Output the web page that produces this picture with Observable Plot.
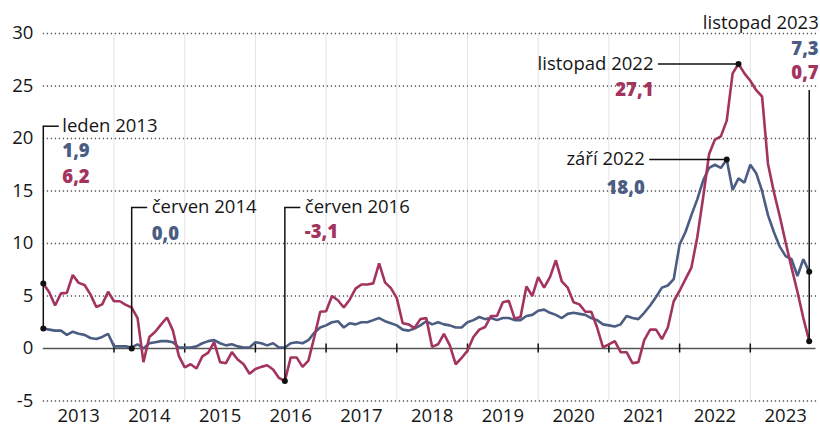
<!DOCTYPE html>
<html><head><meta charset="utf-8">
<script src="https://cdn.jsdelivr.net/npm/d3@7"></script>
<script src="https://cdn.jsdelivr.net/npm/@observablehq/plot@0.6"></script>
<style>body{margin:0;background:#fff}svg{display:block}</style>
</head><body><div id="chart"></div>
<script>
// Monthly values Jan 2013 – Nov 2023 (y/y change, %)
const blueSeries = [
  1.9,1.8,1.7,1.7,1.3,1.6,1.4,1.3,1.0,0.9,1.1,1.4,
  0.2,0.2,0.2,0.1,0.4,0.0,0.5,0.6,0.7,0.7,0.6,0.1,
  0.1,0.1,0.2,0.5,0.7,0.8,0.5,0.3,0.4,0.2,0.1,0.1,
  0.6,0.5,0.3,0.5,0.1,0.1,0.5,0.6,0.5,0.8,1.5,2.0,
  2.2,2.5,2.6,2.0,2.4,2.3,2.5,2.5,2.7,2.9,2.6,2.4,
  2.2,1.8,1.7,1.9,2.2,2.6,2.3,2.5,2.3,2.2,2.0,2.0,
  2.5,2.7,3.0,2.8,2.9,2.7,2.9,2.9,2.7,2.7,3.1,3.2,
  3.6,3.7,3.4,3.2,2.9,3.3,3.4,3.3,3.2,2.9,2.7,2.3,
  2.2,2.1,2.3,3.1,2.9,2.8,3.4,4.1,4.9,5.8,6.0,6.6,
  9.9,11.1,12.7,14.2,16.0,17.2,17.5,17.2,18.0,15.1,16.2,15.8,
  17.5,16.7,15.0,12.7,11.1,9.7,8.8,8.5,6.9,8.5,7.3
];
const redSeries = [
  6.2,5.35,4.1,5.25,5.3,7.0,6.25,6.05,5.15,3.95,4.2,5.4,
  4.5,4.5,4.15,3.9,2.9,-1.3,1.1,1.6,2.3,2.95,1.7,-0.7,
  -1.8,-1.5,-1.9,-0.75,-0.4,0.6,-1.3,-1.4,-0.35,-1.05,-1.5,-2.4,
  -1.95,-1.75,-1.6,-2.0,-2.8,-3.1,-0.85,-0.85,-1.75,-1.15,1.1,3.5,
  3.55,5.0,4.6,3.9,4.65,5.7,6.1,6.1,6.2,8.1,6.3,5.75,
  4.8,2.4,2.3,1.95,2.8,2.9,0.15,0.4,1.4,0.3,-1.5,-0.9,
  -0.2,1.1,1.8,2.05,3.1,3.1,4.4,4.55,2.85,3.0,5.9,5.0,
  6.8,5.8,6.8,8.4,6.4,5.8,4.4,4.2,3.5,3.5,2.0,0.1,
  0.4,0.7,-0.35,-0.35,-1.4,-1.3,0.8,1.8,1.8,0.9,2.0,4.5,
  5.5,6.6,7.7,10.6,14.4,18.5,19.9,20.2,21.7,26.2,27.1,26.2,
  25.5,24.6,24.0,17.6,14.9,12.6,10.1,7.7,5.4,2.9,0.7
];
const yTicks = [-5, 0, 5, 10, 15, 20, 25, 30];
const yearLabels = [2013,2014,2015,2016,2017,2018,2019,2020,2021,2022,2023];
const yearStarts = [2014,2015,2016,2017,2018,2019,2020,2021,2022,2023];

// annotations: month index into the series
const notes = [
  {label:"leden 2013", idx:0, values:[["1,9","blue"],["6,2","red"]]},
  {label:"červen 2014", idx:15, values:[["0,0","blue"]]},
  {label:"červen 2016", idx:41, values:[["-3,1","red"]]},
  {label:"září 2022", idx:116, values:[["18,0","blue"]]},
  {label:"listopad 2022", idx:118, values:[["27,1","red"]]},
  {label:"listopad 2023", idx:130, values:[["7,3","blue"],["0,7","red"]]}
];

const BLUE = "#4b5d82", RED = "#a3335f", INK = "#161616";
const T = i => 2013 + i / 12;
const rows = blueSeries.map((v, i) => ({t: T(i), blue: v, red: redSeries[i]}));

const X0 = 42.8, X1 = 820.5;
const pxYear = (X1 - X0) / 11;
const px = p => p / pxYear;            // pixel offset -> years
const H = 426, MT = 33, MB = 25.5;
const pxUnit = (H - MT - MB) / 35;
const pyv = p => p / pxUnit;           // pixel offset -> value units

const n = Object.fromEntries(notes.map(d => [d.label, d]));
const tOf = d => T(d.idx);
const val = (d, c) => (c === "blue" ? blueSeries : redSeries)[d.idx];

const leaderY = 13.43;   // level of the leader hooks for the 2014/2016 labels
const ledenY = 21.17;
const FS = 18.5;

function textMarks(label, x, y, dx, anchor, dys) {
  const d = n[label];
  const out = [Plot.text([label], {x, y, dx, text: d => d, textAnchor: anchor, fill: INK, fontSize: FS, fontWeight: 500})];
  d.values.forEach(([s, c], k) => {
    out.push(Plot.text([s], {x, y, dx, dy: dys[k], text: d => d, textAnchor: anchor,
      fill: c === "blue" ? BLUE : RED, fontWeight: 800, fontSize: FS}));
  });
  return out;
}

const L = n["leden 2013"], C14 = n["červen 2014"], C16 = n["červen 2016"];
const Z22 = n["září 2022"], N22 = n["listopad 2022"], N23 = n["listopad 2023"];
const ledenDots = L.values.map(([s, c]) => ({t: tOf(L), v: val(L, c)}));
const n23Dots = N23.values.map(([s, c]) => ({t: tOf(N23), v: val(N23, c)}));
const lineStyle = {stroke: "#111", strokeWidth: 1.5};

const plot = Plot.plot({
  width: 820, height: H,
  marginTop: MT, marginBottom: MB, marginLeft: X0, marginRight: 0,
  x: {domain: [2013, 2024], range: [X0, X1], axis: null},
  y: {domain: [-5, 30], axis: null},
  style: {fontFamily: "'Open Sans', sans-serif", fontSize: "18px", color: INK, background: "#fff", overflow: "visible"},
  marks: [
    Plot.ruleX(yearStarts, {x: d => d, y1: -5, y2: 30, stroke: "#e3e3e3", strokeWidth: 1}),
    Plot.ruleY(yTicks.filter(d => d !== 0), {y: d => d, x1: 2013, x2: 2024 - px(2), stroke: "#555", strokeWidth: 1.3, strokeDasharray: "1.3,2.7"}),
    Plot.ruleY([0], {x1: 2013, x2: 2024 - px(5), stroke: "#555", strokeWidth: 1.7}),
    Plot.ruleX(yearStarts, {x: d => d, y1: -pyv(4.5), y2: pyv(4.5), stroke: "#111", strokeWidth: 1.5}),
    Plot.text(yTicks, {x: 2013, y: d => d, text: d => String(d), textAnchor: "end", dx: -10, fill: INK, fontSize: FS, fontWeight: 500}),
    Plot.text(yearLabels, {x: d => d + 0.5, y: -5, text: d => String(d), dy: 15.5, fill: INK, fontSize: FS, fontWeight: 500}),
    Plot.line(rows, {x: "t", y: "blue", stroke: BLUE, strokeWidth: 2.6, strokeLinejoin: "miter"}),
    Plot.line(rows, {x: "t", y: "red", stroke: RED, strokeWidth: 2.6, strokeLinejoin: "miter"}),

    // leden 2013
    Plot.ruleX([tOf(L)], {y1: val(L, "blue"), y2: ledenY, ...lineStyle}),
    Plot.ruleY([ledenY], {x1: tOf(L), x2: tOf(L) + px(16), ...lineStyle}),
    ...textMarks("leden 2013", tOf(L), ledenY, 19, "start", [24.5, 50.5]),
    Plot.dot(ledenDots, {x: "t", y: "v", r: 3, fill: "#111"}),

    // červen 2014
    Plot.ruleX([tOf(C14)], {y1: 0, y2: leaderY, ...lineStyle}),
    Plot.ruleY([leaderY], {x1: tOf(C14), x2: tOf(C14) + px(16), ...lineStyle}),
    ...textMarks("červen 2014", tOf(C14), leaderY, 20, "start", [26.5]),
    Plot.dot([{t: tOf(C14), v: 0}], {x: "t", y: "v", r: 3, fill: "#111"}),

    // červen 2016
    Plot.ruleX([tOf(C16)], {y1: val(C16, "red"), y2: leaderY, ...lineStyle}),
    Plot.ruleY([leaderY], {x1: tOf(C16), x2: tOf(C16) + px(16), ...lineStyle}),
    ...textMarks("červen 2016", tOf(C16), leaderY, 20, "start", [24.5]),
    Plot.dot([{t: tOf(C16), v: val(C16, "red")}], {x: "t", y: "v", r: 3, fill: "#111"}),

    // září 2022
    Plot.ruleY([val(Z22, "blue")], {x1: tOf(Z22) - px(77), x2: tOf(Z22), ...lineStyle}),
    ...textMarks("září 2022", tOf(Z22), val(Z22, "blue"), -82, "end", [28.5]),
    Plot.dot([{t: tOf(Z22), v: val(Z22, "blue")}], {x: "t", y: "v", r: 3, fill: "#111"}),

    // listopad 2022
    Plot.ruleY([val(N22, "red")], {x1: tOf(N22) - px(80), x2: tOf(N22), ...lineStyle}),
    ...textMarks("listopad 2022", tOf(N22), val(N22, "red"), -85, "end", [26.5]),
    Plot.dot([{t: tOf(N22), v: val(N22, "red")}], {x: "t", y: "v", r: 3, fill: "#111"}),

    // listopad 2023
    Plot.ruleX([tOf(N23)], {y1: val(N23, "red"), y2: 30 - pyv(90 - MT), ...lineStyle}),
    ...textMarks("listopad 2023", tOf(N23), 30 + pyv(MT - 22.7), 9.5, "end", [26, 50]),
    Plot.dot(n23Dots, {x: "t", y: "v", r: 3, fill: "#111"})
  ]
});
document.getElementById("chart").appendChild(plot);
</script>
</body></html>
